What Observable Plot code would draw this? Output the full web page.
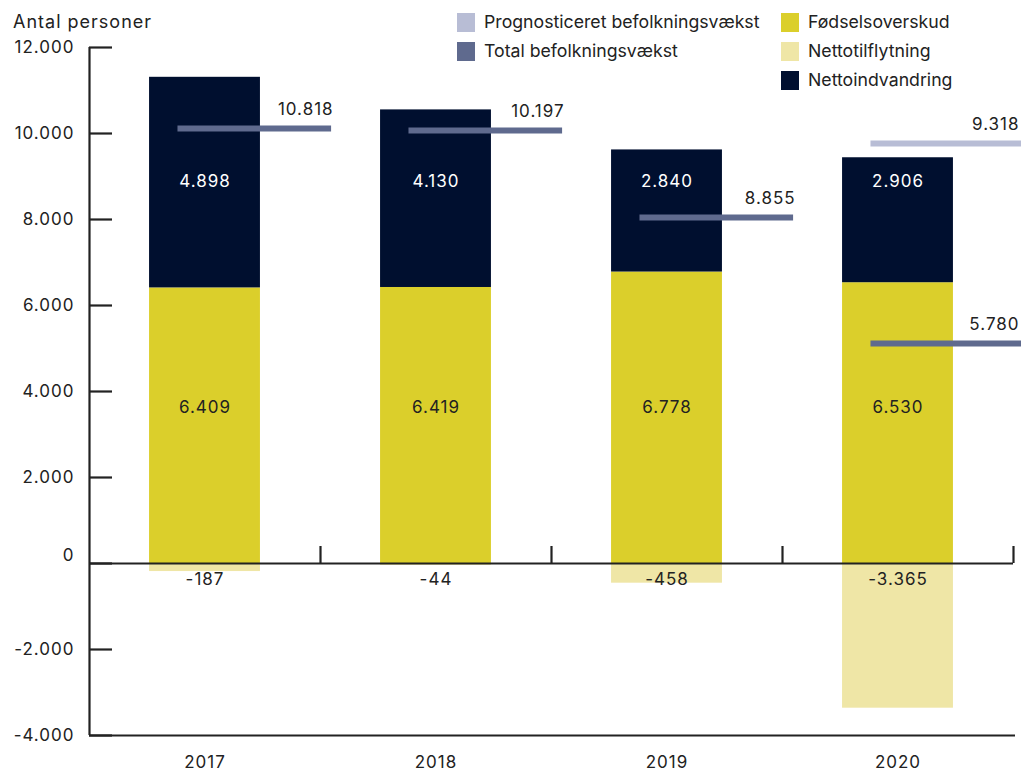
<!DOCTYPE html>
<html>
<head>
<meta charset="utf-8">
<script src="https://cdn.jsdelivr.net/npm/d3@7"></script>
<script src="https://cdn.jsdelivr.net/npm/@observablehq/plot@0.6"></script>
<style>
  html, body { margin: 0; padding: 0; background: #fff; }
  #wrap { position: relative; width: 1021px; height: 772px; font-family: Inter, "Noto Sans", sans-serif; color: #222; }
  #ylabel { position: absolute; left: 13px; top: 10px; font-size: 18px; line-height: 24px; letter-spacing: 1px; }
  .leg { position: absolute; font-size: 17.7px; line-height: 24px; display: flex; align-items: center; white-space: nowrap; letter-spacing: 0; }
  .sw { width: 18px; height: 19px; margin-right: 9px; }
</style>
</head>
<body>
<div id="wrap">
  <div id="chart"></div>
  <div id="ylabel">Antal personer</div>
  <div id="legend"></div>
</div>
<script>
// ---- Data ----
const years = [2017, 2018, 2019, 2020];
const foedselsoverskud = [6409, 6419, 6778, 6530];
const nettoindvandring = [4898, 4130, 2840, 2906];
const nettotilflytning = [-187, -44, -458, -3365];
const totalBefolkningsvaekst = [10818, 10197, 8855, 5780];
// level at which each total line is drawn in the picture
const totalDrawnLevel = [10116, 10070, 8047, 5116];
const prognoseYears = [2020];
const prognoseValues = [9318];
const prognoseDrawnLevel = [9767];
const yTicks = [-4000, -2000, 0, 2000, 4000, 6000, 8000, 10000, 12000];

const colors = {
  prognose: "#b8bdd5",
  total: "#5f6a8e",
  foedsel: "#dbcf2b",
  tilflyt: "#efe6a6",
  indvandring: "#000f2f"
};

const legendItems = [
  {label: "Prognosticeret befolkningsvækst", color: colors.prognose, col: 0, row: 0},
  {label: "Total befolkningsvækst", color: colors.total, col: 0, row: 1},
  {label: "Fødselsoverskud", color: colors.foedsel, col: 1, row: 0},
  {label: "Nettotilflytning", color: colors.tilflyt, col: 1, row: 1},
  {label: "Nettoindvandring", color: colors.indvandring, col: 1, row: 2}
];

const fmt = d3.formatLocale({decimal: ",", thousands: ".", grouping: [3], currency: ["", ""], minus: "-"}).format(",d");

// ---- Build tables ----
const bars = [];
years.forEach((yr, i) => {
  bars.push({year: yr, y1: 0, y2: foedselsoverskud[i], color: colors.foedsel});
  bars.push({year: yr, y1: foedselsoverskud[i], y2: foedselsoverskud[i] + nettoindvandring[i], color: colors.indvandring});
  bars.push({year: yr, y1: 0, y2: nettotilflytning[i], color: colors.tilflyt});
});
const totals = years.map((yr, i) => ({year: yr, value: totalBefolkningsvaekst[i], level: totalDrawnLevel[i]}));
const prognose = prognoseYears.map((yr, i) => ({year: yr, value: prognoseValues[i], level: prognoseDrawnLevel[i]}));
const rows = years.map((yr, i) => ({year: yr, f: foedselsoverskud[i], n: nettoindvandring[i], t: nettotilflytning[i]}));

const half = 0.24;
const lineStart = -0.117, lineEnd = 0.548;
const pxPerUnitX = 231; // band width in px (for small offsets)
const ink = "#222";

const chart = Plot.plot({
  width: 1021,
  height: 772,
  marginLeft: 89,
  marginRight: 8,
  marginTop: 47,
  marginBottom: 37,
  style: {fontFamily: "Inter, 'Noto Sans', sans-serif", fontSize: "17px", color: ink, background: "#fff", letterSpacing: "1px"},
  x: {domain: [2016.5, 2020.5], axis: null},
  y: {domain: [-4000, 12000], axis: null},
  marks: [
    Plot.rectY(bars, {x1: d => d.year - half, x2: d => d.year + half, y1: "y1", y2: "y2", fill: "color"}),
    // y axis line
    Plot.ruleX([2016.5], {y1: -4000, y2: 12000, stroke: ink, strokeWidth: 2.2}),
    // y ticks (pointing inward)
    Plot.ruleY(yTicks, {x1: 2016.5, x2: 2016.5 + 23 / pxPerUnitX, stroke: ink, strokeWidth: 2.2}),
    // zero line and bottom line
    Plot.ruleY([0], {x1: 2016.5, x2: 2020.5, stroke: ink, strokeWidth: 2.2}),
    Plot.ruleY([-4000], {x1: 2016.5, x2: 2020.5 + 2 / pxPerUnitX, stroke: ink, strokeWidth: 2.2}),
    // category separators on zero line
    Plot.ruleX(years.map(y => y + 0.5), {y1: 0, y2: 17 / 0.043, stroke: ink, strokeWidth: 2.2}),
    // y tick labels
    Plot.text(yTicks.filter(d => d !== 0), {x: 2016.5, y: d => d, text: d => fmt(d), textAnchor: "end", dx: -15, fill: ink, fontSize: 17}),
    Plot.text([0], {x: 2016.5, y: d => d, text: d => fmt(d), textAnchor: "end", dx: -15, dy: -8, fill: ink, fontSize: 17}),
    // year labels
    Plot.text(years, {x: d => d, y: -4000, text: d => String(d), dy: 27, fill: ink, fontSize: 17}),
    // segment labels
    Plot.text(rows, {x: "year", y: 3630, text: d => fmt(d.f), fill: ink, fontSize: 17}),
    Plot.text(rows, {x: "year", y: 8880, text: d => fmt(d.n), fill: "#fff", fontSize: 17}),
    Plot.text(rows, {x: "year", y: -380, text: d => fmt(d.t), fill: ink, fontSize: 17}),
    // prognose line
    Plot.ruleY(prognose, {y: "level", x1: d => d.year + lineStart, x2: d => d.year + lineEnd, stroke: colors.prognose, strokeWidth: 6, clip: false}),
    // total lines
    Plot.ruleY(totals, {y: "level", x1: d => d.year + lineStart, x2: d => d.year + lineEnd, stroke: colors.total, strokeWidth: 6, clip: false}),
    // line labels
    Plot.text([...totals, ...prognose], {
      x: d => Math.min(d.year + lineEnd + 2 / pxPerUnitX, 2020.5 + 6 / pxPerUnitX),
      y: "level", text: d => fmt(d.value), textAnchor: "end", dy: -19, fill: ink, fontSize: 17
    })
  ]
});
document.getElementById("chart").appendChild(chart);

// ---- Legend ----
const legend = document.getElementById("legend");
const colX = [457, 781];
const rowY = [22, 51, 80];
legendItems.forEach(it => {
  const el = document.createElement("div");
  el.className = "leg";
  el.style.left = colX[it.col] + "px";
  el.style.top = (rowY[it.row] - 12) + "px";
  el.innerHTML = `<div class="sw" style="background:${it.color}"></div><span>${it.label}</span>`;
  legend.appendChild(el);
});
</script>
</body>
</html>
